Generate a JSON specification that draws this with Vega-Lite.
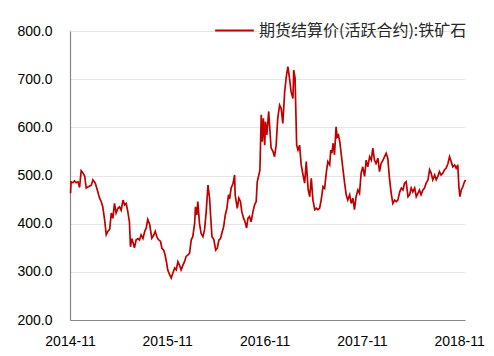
{
  "$schema": "https://vega.github.io/schema/vega-lite/v6.json",
  "width": 395,
  "height": 289,
  "autosize": {"type": "none"},
  "padding": {"left": 70, "top": 31, "right": 29, "bottom": 36},
  "background": "white",
  "config": {
    "view": {"stroke": null},
    "font": "Liberation Sans"
  },
  "data": {
    "values": [
      {"d":"2014-11-03","v":463},{"d":"2014-11-05","v":487},{"d":"2014-11-12","v":485},{"d":"2014-11-18","v":489},{"d":"2014-11-24","v":485},{"d":"2014-12-01","v":487},{"d":"2014-12-07","v":475},{"d":"2014-12-13","v":510},{"d":"2014-12-19","v":506},{"d":"2014-12-26","v":499},
      {"d":"2015-01-01","v":474},{"d":"2015-01-07","v":476},{"d":"2015-01-20","v":480},{"d":"2015-01-26","v":491},{"d":"2015-02-04","v":484},{"d":"2015-02-11","v":471},{"d":"2015-02-20","v":453},{"d":"2015-02-26","v":446},{"d":"2015-03-04","v":435},{"d":"2015-03-11","v":408},
      {"d":"2015-03-17","v":377},{"d":"2015-03-23","v":384},{"d":"2015-03-30","v":388},{"d":"2015-04-05","v":422},{"d":"2015-04-11","v":411},{"d":"2015-04-17","v":442},{"d":"2015-04-23","v":422},{"d":"2015-04-30","v":432},{"d":"2015-05-06","v":435},{"d":"2015-05-12","v":428},
      {"d":"2015-05-19","v":449},{"d":"2015-05-25","v":439},{"d":"2015-05-31","v":442},{"d":"2015-06-06","v":425},{"d":"2015-06-12","v":404},{"d":"2015-06-16","v":352},{"d":"2015-06-21","v":369},{"d":"2015-06-25","v":362},{"d":"2015-07-01","v":350},{"d":"2015-07-07","v":366},
      {"d":"2015-07-14","v":369},{"d":"2015-07-20","v":366},{"d":"2015-07-26","v":377},{"d":"2015-08-02","v":369},{"d":"2015-08-08","v":383},{"d":"2015-08-14","v":391},{"d":"2015-08-20","v":409},{"d":"2015-08-27","v":399},{"d":"2015-09-04","v":370},{"d":"2015-09-12","v":377},
      {"d":"2015-09-17","v":384},{"d":"2015-09-23","v":373},{"d":"2015-09-29","v":367},{"d":"2015-10-07","v":363},{"d":"2015-10-12","v":349},{"d":"2015-10-19","v":345},{"d":"2015-10-24","v":335},{"d":"2015-10-30","v":318},{"d":"2015-11-03","v":304},{"d":"2015-11-10","v":294},
      {"d":"2015-11-16","v":287},{"d":"2015-11-22","v":297},{"d":"2015-11-29","v":308},{"d":"2015-12-05","v":304},{"d":"2015-12-11","v":321},{"d":"2015-12-17","v":314},{"d":"2015-12-23","v":304},{"d":"2015-12-30","v":314},{"d":"2016-01-05","v":321},{"d":"2016-01-11","v":332},
      {"d":"2016-01-18","v":335},{"d":"2016-01-24","v":339},{"d":"2016-01-30","v":366},{"d":"2016-02-05","v":373},{"d":"2016-02-12","v":401},{"d":"2016-02-15","v":435},{"d":"2016-02-20","v":418},{"d":"2016-02-24","v":446},{"d":"2016-03-01","v":401},{"d":"2016-03-07","v":380},
      {"d":"2016-03-14","v":373},{"d":"2016-03-20","v":387},{"d":"2016-03-26","v":422},{"d":"2016-04-02","v":480},{"d":"2016-04-08","v":453},{"d":"2016-04-12","v":416},{"d":"2016-04-17","v":373},{"d":"2016-04-24","v":367},{"d":"2016-05-01","v":345},{"d":"2016-05-07","v":349},
      {"d":"2016-05-13","v":366},{"d":"2016-05-19","v":369},{"d":"2016-05-24","v":380},{"d":"2016-05-31","v":394},{"d":"2016-06-06","v":418},{"d":"2016-06-12","v":432},{"d":"2016-06-18","v":460},{"d":"2016-06-22","v":451},{"d":"2016-06-28","v":474},{"d":"2016-07-05","v":483},
      {"d":"2016-07-11","v":501},{"d":"2016-07-13","v":460},{"d":"2016-07-21","v":432},{"d":"2016-07-27","v":453},{"d":"2016-08-02","v":446},{"d":"2016-08-07","v":425},{"d":"2016-08-14","v":411},{"d":"2016-08-19","v":404},{"d":"2016-08-25","v":391},{"d":"2016-08-30","v":411},
      {"d":"2016-09-05","v":415},{"d":"2016-09-11","v":404},{"d":"2016-09-18","v":425},{"d":"2016-09-24","v":439},{"d":"2016-09-30","v":446},{"d":"2016-10-04","v":487},{"d":"2016-10-10","v":501},{"d":"2016-10-14","v":511},{"d":"2016-10-19","v":626},{"d":"2016-10-23","v":570},
      {"d":"2016-10-27","v":619},{"d":"2016-11-01","v":563},{"d":"2016-11-04","v":612},{"d":"2016-11-09","v":584},{"d":"2016-11-16","v":633},{"d":"2016-11-20","v":598},{"d":"2016-11-25","v":557},{"d":"2016-12-02","v":550},{"d":"2016-12-08","v":539},{"d":"2016-12-14","v":563},
      {"d":"2016-12-20","v":619},{"d":"2016-12-27","v":646},{"d":"2017-01-02","v":639},{"d":"2017-01-08","v":608},{"d":"2017-01-15","v":674},{"d":"2017-01-21","v":705},{"d":"2017-01-27","v":726},{"d":"2017-02-02","v":702},{"d":"2017-02-08","v":674},{"d":"2017-02-15","v":660},
      {"d":"2017-02-18","v":719},{"d":"2017-02-23","v":702},{"d":"2017-03-01","v":563},{"d":"2017-03-06","v":553},{"d":"2017-03-12","v":563},{"d":"2017-03-18","v":522},{"d":"2017-03-25","v":501},{"d":"2017-03-31","v":484},{"d":"2017-04-06","v":529},{"d":"2017-04-13","v":471},
      {"d":"2017-04-19","v":456},{"d":"2017-04-25","v":494},{"d":"2017-05-01","v":449},{"d":"2017-05-08","v":429},{"d":"2017-05-14","v":432},{"d":"2017-05-20","v":429},{"d":"2017-05-26","v":432},{"d":"2017-06-01","v":449},{"d":"2017-06-08","v":477},{"d":"2017-06-14","v":473},
      {"d":"2017-06-20","v":505},{"d":"2017-06-26","v":529},{"d":"2017-07-03","v":522},{"d":"2017-07-07","v":553},{"d":"2017-07-11","v":546},{"d":"2017-07-16","v":567},{"d":"2017-07-21","v":543},{"d":"2017-07-27","v":601},{"d":"2017-07-31","v":580},{"d":"2017-08-05","v":584},
      {"d":"2017-08-10","v":570},{"d":"2017-08-15","v":546},{"d":"2017-08-22","v":512},{"d":"2017-08-28","v":484},{"d":"2017-09-03","v":460},{"d":"2017-09-09","v":449},{"d":"2017-09-16","v":460},{"d":"2017-09-22","v":442},{"d":"2017-09-28","v":453},{"d":"2017-10-04","v":429},
      {"d":"2017-10-10","v":456},{"d":"2017-10-17","v":470},{"d":"2017-10-23","v":463},{"d":"2017-10-29","v":505},{"d":"2017-11-04","v":518},{"d":"2017-11-11","v":498},{"d":"2017-11-17","v":532},{"d":"2017-11-23","v":518},{"d":"2017-11-30","v":539},{"d":"2017-12-06","v":532},
      {"d":"2017-12-12","v":557},{"d":"2017-12-18","v":532},{"d":"2017-12-24","v":525},{"d":"2017-12-31","v":536},{"d":"2018-01-06","v":508},{"d":"2018-01-12","v":525},{"d":"2018-01-19","v":532},{"d":"2018-01-25","v":539},{"d":"2018-01-31","v":546},{"d":"2018-02-06","v":536},
      {"d":"2018-02-13","v":491},{"d":"2018-02-19","v":463},{"d":"2018-02-25","v":442},{"d":"2018-03-04","v":449},{"d":"2018-03-10","v":446},{"d":"2018-03-16","v":449},{"d":"2018-03-23","v":466},{"d":"2018-03-29","v":474},{"d":"2018-04-04","v":470},{"d":"2018-04-10","v":484},
      {"d":"2018-04-16","v":487},{"d":"2018-04-23","v":456},{"d":"2018-04-29","v":460},{"d":"2018-05-05","v":474},{"d":"2018-05-11","v":466},{"d":"2018-05-18","v":474},{"d":"2018-05-24","v":456},{"d":"2018-05-30","v":463},{"d":"2018-06-05","v":470},{"d":"2018-06-11","v":460},
      {"d":"2018-06-18","v":470},{"d":"2018-06-24","v":474},{"d":"2018-06-30","v":484},{"d":"2018-07-07","v":491},{"d":"2018-07-13","v":512},{"d":"2018-07-19","v":505},{"d":"2018-07-25","v":491},{"d":"2018-08-01","v":501},{"d":"2018-08-07","v":491},{"d":"2018-08-13","v":498},
      {"d":"2018-08-19","v":508},{"d":"2018-08-25","v":501},{"d":"2018-09-01","v":505},{"d":"2018-09-07","v":512},{"d":"2018-09-13","v":515},{"d":"2018-09-20","v":525},{"d":"2018-09-26","v":539},{"d":"2018-10-02","v":529},{"d":"2018-10-08","v":518},{"d":"2018-10-15","v":522},
      {"d":"2018-10-21","v":515},{"d":"2018-10-27","v":522},{"d":"2018-10-31","v":477},{"d":"2018-11-04","v":456},{"d":"2018-11-09","v":470},{"d":"2018-11-15","v":477},{"d":"2018-11-21","v":487},{"d":"2018-11-25","v":491}
    ]
  },
  "mark": {"type": "line", "strokeWidth": 1.7, "interpolate": "linear"},
  "encoding": {
    "x": {
      "field": "d",
      "type": "temporal",
      "scale": {"type": "utc", "domain": [{"year": 2014, "month": 11, "date": 1, "utc": true}, {"year": 2018, "month": 11, "date": 23, "utc": true}]},
      "axis": {
        "title": null,
        "values": [
          {"year": 2014, "month": 11, "date": 1, "utc": true},
          {"year": 2015, "month": 11, "date": 1, "utc": true},
          {"year": 2016, "month": 11, "date": 1, "utc": true},
          {"year": 2017, "month": 11, "date": 1, "utc": true},
          {"year": 2018, "month": 11, "date": 1, "utc": true}
        ],
        "format": "%Y-%m",
        "grid": false,
        "ticks": false,
        "domainColor": "#868686",
        "domainWidth": 1.2,
        "labelFontSize": 14,
        "labelColor": "#000000",
        "labelPadding": 14,
        "labelFlush": false,
        "labelOverlap": false
      }
    },
    "y": {
      "field": "v",
      "type": "quantitative",
      "scale": {"domain": [200, 800], "nice": false, "zero": false},
      "axis": {
        "title": null,
        "values": [200, 300, 400, 500, 600, 700, 800],
        "format": ".1f",
        "ticks": false,
        "grid": true,
        "gridColor": "#e6e6e6",
        "gridWidth": 1,
        "domainColor": "#868686",
        "domainWidth": 1.2,
        "labelFontSize": 14,
        "labelColor": "#000000",
        "labelPadding": 18
      }
    },
    "color": {
      "datum": "期货结算价(活跃合约):铁矿石",
      "type": "nominal",
      "scale": {"range": ["#C00000"]},
      "legend": {
        "title": null,
        "orient": "none",
        "legendX": 144,
        "legendY": -21,
        "symbolType": "stroke",
        "symbolSize": 1500,
        "symbolStrokeWidth": 1.8,
        "labelFont": "Noto Sans CJK SC",
        "labelFontSize": 16,
        "labelColor": "#262626",
        "labelOffset": 4,
        "labelLimit": 400
      }
    }
  }
}
